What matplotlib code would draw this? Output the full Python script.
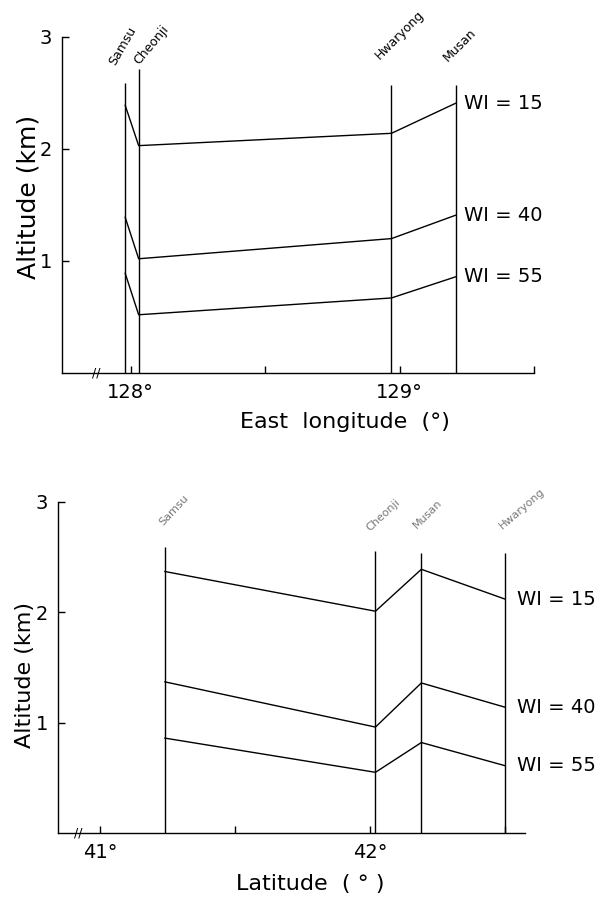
import matplotlib
matplotlib.use("Agg")
import matplotlib.pyplot as plt

# station positions and tops of the station lines (km)
lon_names = ["Samsu", "Cheonji", "Hwaryong", "Musan"]
lon_x = [127.98, 128.03, 128.97, 129.21]
lon_top = [2.59, 2.71, 2.57, 2.57]

lat_names = ["Samsu", "Cheonji", "Musan", "Hwaryong"]
lat_x = [41.24, 42.02, 42.19, 42.50]
lat_top = [2.59, 2.56, 2.54, 2.54]

wi_labels = ["WI = 15", "WI = 40", "WI = 55"]

# altitude (km) of each WI level at the stations
lon_wi15 = [2.39, 2.03, 2.14, 2.41]
lon_wi40 = [1.39, 1.02, 1.20, 1.41]
lon_wi55 = [0.89, 0.52, 0.67, 0.86]

lat_wi15 = [2.37, 2.01, 2.39, 2.12]
lat_wi40 = [1.37, 0.96, 1.36, 1.14]
lat_wi55 = [0.86, 0.55, 0.82, 0.61]

lon_ticks = [128.0, 128.5, 129.0, 129.5]
lon_ticklabels = ["128°", "", "129°", ""]
lat_ticks = [41.0, 41.5, 42.0, 42.5]
lat_ticklabels = ["41°", "", "42°", ""]

LW = 1.0


def panel(ax, xs, tops, names, levels, xlim, ticks, ticklabels, break_x,
          name_style, wi_dx, name_size):
    ax.vlines(xs, 0, tops, color="black", lw=LW)
    for vals in levels:
        ax.plot(xs, vals, color="black", lw=LW)
    for vals, lab in zip(levels, wi_labels):
        ax.annotate(lab, (xs[-1], vals[-1]), xytext=(wi_dx, 0),
                    textcoords="offset pixels", ha="left", va="center",
                    fontsize=14)
    for x, t, name, (dx, dy, rot, col) in zip(xs, tops, names, name_style):
        ax.annotate(name, (x, t), xytext=(dx, dy), textcoords="offset pixels",
                    ha="left", va="bottom", rotation=rot,
                    rotation_mode="anchor", fontsize=name_size, color=col)
    ax.text(break_x, 0, "//", ha="center", va="center", fontsize=9)

    ax.set_xlim(*xlim)
    ax.set_ylim(0, 3)
    ax.set_xticks(ticks)
    ax.set_xticklabels(ticklabels)
    ax.set_yticks([1, 2, 3])
    ax.tick_params(direction="in", length=5, width=1, labelsize=14, pad=7)
    for s in ("top", "right"):
        ax.spines[s].set_visible(False)
    for s in ("left", "bottom"):
        ax.spines[s].set_linewidth(1.0)


fig = plt.figure(figsize=(5.98, 8.98), dpi=100)

ax1 = fig.add_axes([62 / 598, 1 - 373 / 898, 472 / 598, 336 / 898])
panel(ax1, lon_x, lon_top, lon_names, [lon_wi15, lon_wi40, lon_wi55],
      (127.745, 129.49), lon_ticks, lon_ticklabels, 127.874,
      [(-7, 15, 60, "black"), (3, 2, 50, "black"),
       (-10, 23, 45, "black"), (-6, 21, 45, "black")], 8, 9)
ax1.set_xlabel("East  longitude  (°)", fontsize=16)
ax1.xaxis.set_label_coords(0.60, -0.115)
ax1.set_ylabel("Altitude (km)", fontsize=18)
ax1.yaxis.set_label_coords(-0.045, 0.524)

ax2 = fig.add_axes([58 / 598, 1 - 833 / 898, 467 / 598, 331 / 898])
panel(ax2, lat_x, lat_top, lat_names, [lat_wi15, lat_wi40, lat_wi55],
      (40.844, 42.574), lat_ticks, lat_ticklabels, 40.92,
      [(0, 20, 47, "#777777"), (-4, 18, 43, "#777777"),
       (-3, 22, 45, "#777777"), (-1, 22, 41, "#777777")], 12, 8)
ax2.set_xlabel("Latitude  ( ° )", fontsize=16)
ax2.xaxis.set_label_coords(0.54, -0.125)
ax2.set_ylabel("Altitude (km)", fontsize=16)
ax2.yaxis.set_label_coords(-0.05, 0.477)

fig.savefig("out.png", dpi=100)
